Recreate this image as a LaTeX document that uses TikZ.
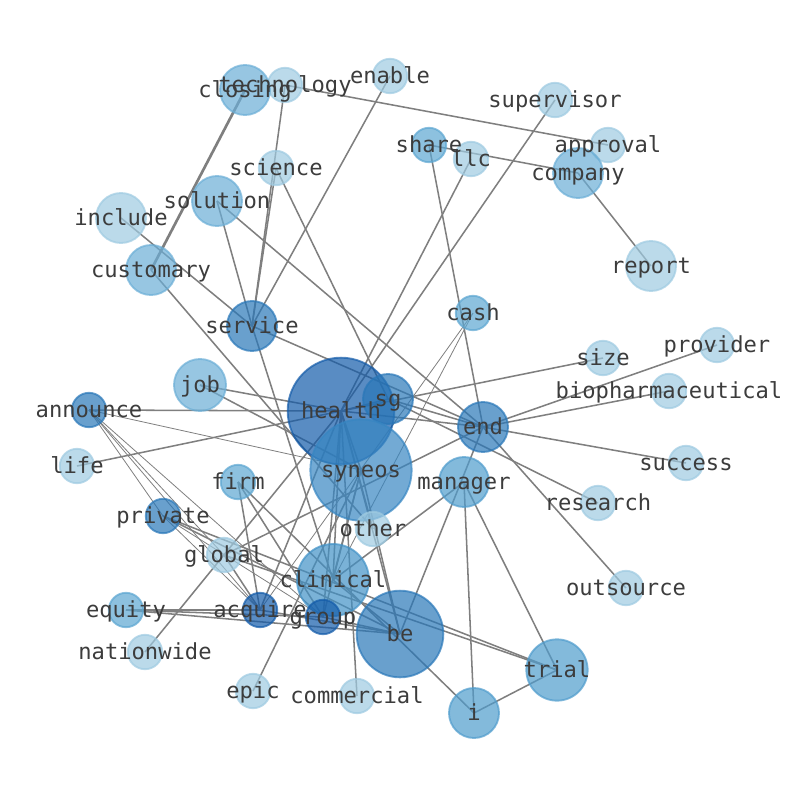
\documentclass[tikz,border=0pt]{standalone}
\usepackage{fontspec}
\setmonofont{DejaVu Sans Mono}
\pgfdeclarelayer{bg}
\pgfsetlayers{bg,main}
\definecolor{cL}{HTML}{9ECAE1}
\definecolor{cM}{HTML}{6BAED6}
\definecolor{cMa}{HTML}{5CA6D1}
\definecolor{cMb}{HTML}{4F9CCC}
\definecolor{cC}{HTML}{4191C6}
\definecolor{cS}{HTML}{3786C2}
\definecolor{cMD}{HTML}{2977B8}
\definecolor{cD}{HTML}{135BA9}
\definecolor{lnc}{HTML}{7F7F7F}
\definecolor{txc}{HTML}{3C3C3C}
\tikzset{
  bub/.style 2 args={circle, inner sep=0pt, minimum size=#1, fill=#2, draw=#2, fill opacity=0.7, draw opacity=0.7, line width=1.4pt},
  rA/.style={bub={25.8pt}{#1}},
  rB/.style={bub={37.5pt}{#1}},
  lbl/.style={font=\ttfamily\fontsize{16.6}{20}\selectfont, text=txc, inner sep=0pt, text height=0.74em, text depth=0.22em, yshift=-3pt},
  lnk/.style={draw=lnc, line width=1.15pt},
  thin lnk/.style={draw=lnc, line width=0.6pt},
  thick lnk/.style={draw=lnc, line width=2pt}
}
\begin{document}
\begin{tikzpicture}[x=0.75pt,y=-0.75pt]
\useasboundingbox (0,0) rectangle (794,790);
% nodes
\node[rA=cL] (technology) at (285,85) {};
\node[rB=cM] (closing) at (245,90) {};
\node[rA=cL] (enable) at (390,76) {};
\node[rA=cL] (supervisor) at (555,100) {};
\node[rA=cMa] (share) at (429,145) {};
\node[rA=cL] (llc) at (471,159) {};
\node[rA=cL] (approval) at (608,145) {};
\node[rB=cM] (company) at (578,173) {};
\node[rA=cL] (science) at (276,168) {};
\node[rB=cM] (solution) at (217,201) {};
\node[rB=cL] (include) at (121,218) {};
\node[rB=cM] (customary) at (151,270) {};
\node[rB=cL] (report) at (651,266) {};
\node[rB=cMD] (service) at (252,326) {};
\node[rA=cMa] (cash) at (473,313) {};
\node[rA=cL] (size) at (603,358) {};
\node[rA=cL] (provider) at (717,345) {};
\node[rA=cL] (biopharmaceutical) at (669,391) {};
\node[bub={39pt}{cM}] (job) at (200,385) {};
\node[bub={80pt}{cD}] (health) at (341,411) {};
\node[rB=cMD] (sg) at (388,399) {};
\node[rA=cMD] (announce) at (89,410) {};
\node[rB=cMD] (end) at (483,427) {};
\node[rA=cL] (success) at (686,463) {};
\node[rA=cL] (life) at (77,466) {};
\node[bub={76pt}{cS}] (syneos) at (361,470) {};
\node[rA=cMa] (firm) at (238,482) {};
\node[rB=cMb] (manager) at (464,482) {};
\node[rA=cL] (research) at (598,503) {};
\node[rA=cMD] (private) at (163,516) {};
\node[rA=cL] (other) at (373,529) {};
\node[rA=cL] (global) at (224,555) {};
\node[bub={54pt}{cC}] (clinical) at (333,580) {};
\node[rA=cL] (outsource) at (626,588) {};
\node[rA=cMa] (equity) at (126,610) {};
\node[rA=cD] (acquire) at (260,610) {};
\node[rA=cD] (group) at (323,617) {};
\node[bub={65pt}{cMD}] (be) at (400,634) {};
\node[rA=cL] (nationwide) at (145,652) {};
\node[bub={46pt}{cMb}] (trial) at (557,670) {};
\node[rA=cL] (epic) at (253,691) {};
\node[rA=cL] (commercial) at (357,696) {};
\node[rB=cMb] (i) at (474,713) {};
% edges
\begin{pgfonlayer}{bg}
\draw[thick lnk] (closing.center) -- (customary.center);
\foreach \a/\b in {technology/service, technology/approval, enable/service, science/service, science/sg,
  solution/service, solution/end, include/service, customary/other, supervisor/health, llc/health,
  share/company, company/report, share/end, service/end, sg/research, service/clinical,
  job/health, job/syneos, announce/health, life/health, size/health,
  end/provider, end/biopharmaceutical, end/success, end/outsource, end/sg, end/health, end/global, end/be,
  manager/i, manager/trial, clinical/manager, i/trial, firm/i, firm/acquire, firm/group,
  private/trial, private/be, global/trial, global/acquire, nationwide/health,
  equity/acquire, equity/group, equity/be, acquire/health, acquire/be,
  group/health, group/syneos, group/be, clinical/health, clinical/syneos, clinical/be,
  health/syneos, health/be, health/sg, syneos/be, epic/syneos, commercial/health, health/other}
  \draw[lnk] (\a.center) -- (\b.center);
\foreach \a/\b in {cash/acquire, cash/clinical, announce/syneos, announce/private, announce/global,
  announce/acquire, announce/group, private/acquire, private/group}
  \draw[thin lnk] (\a.center) -- (\b.center);
\end{pgfonlayer}
% labels
\foreach \n in {closing, technology, enable, supervisor, share, llc, approval, company, science, solution,
  include, customary, report, service, cash, size, provider, biopharmaceutical, job, health, sg,
  announce, end, success, life, syneos, firm, manager, research, private, other, global, clinical,
  outsource, equity, acquire, group, be, nationwide, trial, epic, commercial, i}
  \node[lbl] (\n-l) at (\n.center) {\n};
\end{tikzpicture}
\end{document}
